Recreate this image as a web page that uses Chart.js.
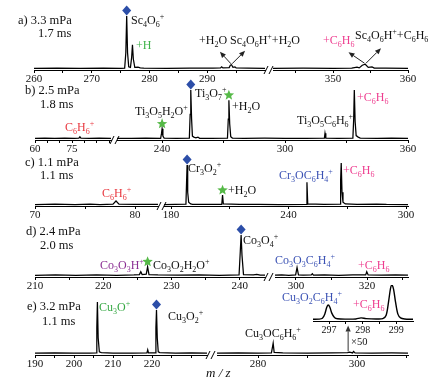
<!DOCTYPE html>
<html><head><meta charset="utf-8">
<script src="https://cdn.jsdelivr.net/npm/chart.js@4"></script>
<style>
body{margin:0;background:#fff}
#wrap{position:relative;width:433px;height:381px;overflow:hidden;background:#fff;font-family:"Liberation Serif","Times New Roman",serif}
canvas{position:absolute}
.t{position:absolute;white-space:nowrap;font-size:12px;line-height:16px;color:#111}
.t sub{font-size:8px;vertical-align:-3px;line-height:0}
.t sup{font-size:8px;vertical-align:5px;line-height:0}
</style></head>
<body><div id="wrap"></div>
<script>
// ---------------- DATA (m/z, relative intensity) ----------------
const specA1 = [[260,0],[264,0.5],[268,0],[272,0.6],[275,0],[275.7,0.5],[275.9,30],[276.05,100],[276.2,30],[276.4,3],[276.7,2],[276.9,20],[277.05,45],[277.2,18],[277.45,2],[278,2.5],[278.4,1],[279,0.5],[283,0.3],[287,0.8],[291,0.5],[292.3,1],[292.5,3],[292.7,1],[293.8,1.5],[294.0,6],[294.2,7],[294.45,2],[294.8,3],[295.0,1],[297,0.5],[300,0]];
const specA2 = [[342,0],[346,0.4],[350,0],[352.5,0.5],[353.2,2.5],[353.5,1],[353.9,6],[354.3,8],[354.7,2],[355.2,3],[355.5,0.5],[357,0.4],[360,0]];
const specB1 = [[60,0.5],[64,1],[68,0.3],[72,1],[76,0.4],[77.8,1],[78.2,3.5],[78.6,1],[82,0.5],[86,1],[90.8,0.5]];
const specB2 = [[218,0.5],[225,0.3],[232,0.8],[239.3,0.5],[239.7,10],[240,20],[240.4,5],[241,1],[247,0.6],[253.3,1],[253.7,50],[254,100],[254.4,40],[254.8,5],[255.5,3],[256.5,1.5],[257.5,3],[258.3,0.5],[264,0.5],[271.9,1],[272.3,40],[272.6,79],[273,30],[273.5,4],[274.3,1],[280,0.5],[290,0.8],[300,0.3],[310,0.6],[319.2,0.8],[319.5,11],[319.9,1],[326,0.5],[333.1,1],[333.5,40],[333.8,100],[334.2,35],[334.7,6],[335.7,3],[336.7,1],[345,0.5],[352,0.8],[360,0.3]];
const specC1 = [[70,0.5],[72,1.2],[74,0.5],[75.5,1.5],[76.5,0.5],[77.8,1.5],[78.1,9],[78.4,1.5],[80,0.6],[82.3,1]];
const specC2 = [[176.4,0.5],[182,1],[187.6,1.5],[187.9,50],[188.2,95],[188.5,30],[189,6],[190,2],[191,1],[198,0.6],[205.9,1],[206.3,23],[206.7,2],[215,0.6],[225,1],[235,0.5],[249.1,1],[249.4,54],[249.8,2],[258,0.8],[266.3,1.5],[266.6,60],[266.9,100],[267.3,30],[267.8,6],[269,2],[275,0.8],[285,1.5],[290,0.6],[301,0.5]];
const specD1 = [[210,1],[213,2],[216,1],[219,2],[222,1],[224.5,2],[225.3,3],[225.5,10],[225.7,3],[226.3,4],[226.5,22],[226.7,3],[228,2],[231,1.5],[234,2.5],[237,1],[239.9,2],[240.08,60],[240.2,100],[240.33,50],[240.55,3],[242,2],[242.5,3.5],[243,1.5],[243.7,1.5]];
const specD2 = [[294.1,1.5],[296,2],[298,1],[299.9,2],[300.3,20],[300.7,2],[302,1.5],[304.3,2],[304.6,5],[304.9,1.5],[308,2],[312,1],[316,2],[319.6,2],[319.9,10],[320.3,2],[324,1.5],[328,2],[331.5,1.5]];
const specE1 = [[190,0.5],[195,1],[200,0.5],[204,0.8],[205.7,1],[205.85,50],[206,100],[206.2,30],[206.5,3],[207,1.5],[210,0.8],[215,0.5],[218.7,1],[218.9,7],[219.1,1],[220.8,1],[221,50],[221.15,84.5],[221.35,30],[221.6,3],[222,1.5],[226,0.6],[230,1],[234.1,0.5]];
const specE2 = [[271.7,0.5],[276,1],[280,0.5],[282.7,1],[282.9,12],[283.05,20],[283.25,2],[285,1],[290,0.6],[295,1],[298.1,1.5],[298.5,2.5],[299.1,1],[299.3,4],[299.6,1],[303,0.8],[307,1],[310.3,0.5]];
const specInset = [[296.52,0],[296.7,0.5],[296.8,3],[296.87,15],[296.93,35],[296.97,41.7],[297.02,36],[297.08,18],[297.16,5],[297.25,1.5],[297.5,0.5],[297.8,1],[297.95,4],[298.1,2],[298.4,1],[298.6,2],[298.7,12],[298.77,50],[298.83,90],[298.87,100],[298.92,88],[298.98,50],[299.05,15],[299.13,4],[299.25,1],[299.5,0]];

// tick values and labelled ticks
const ticksA1 = [260,265,270,275,280,285,290,295], labA1 = [260,270,280,290];
const ticksA2 = [345,350,355,360], labA2 = [350,360];
const ticksB1 = [60,65,70,75,80,85,90], labB1 = [60,75];
const ticksB2 = [240,270,300,330,360], labB2 = [240,300,360];
const ticksC1 = [70,75,80], labC1 = [70,80];
const ticksC2 = [180,210,240,270,300], labC2 = [180,240,300];
const ticksD1 = [210,215,220,225,230,235,240], labD1 = [210,220,230,240];
const ticksD2 = [300,310,320,330], labD2 = [300,320];
const ticksE1 = [190,195,200,205,210,215,220,225,230], labE1 = [190,200,210,220];
const ticksE2 = [280,290,300,310], labE2 = [280,300];
const ticksIn = [297,297.5,298,298.5,299], labIn = [297,298,299];

// marker peaks [m/z, intensity]
const diamondsA = [[276.05,100]], diamondsB = [[254,100]], diamondsC = [[188.2,95]], diamondsD = [[240.2,100]], diamondsE = [[221.15,84.5]];
const starsB = [[240,20],[272.6,79]], starsC = [[206.3,23]], starsD = [[226.5,22]];

// ---------------- RENDERING ----------------
const wrap = document.getElementById('wrap');
const PAD = 22;

function drawStar(ctx,x,y,R,r){
  ctx.beginPath();
  for(let i=0;i<10;i++){
    const a = -Math.PI/2 + i*Math.PI/5, rad = i%2? r : R;
    const px = x + rad*Math.cos(a), py = y + rad*Math.sin(a);
    i? ctx.lineTo(px,py) : ctx.moveTo(px,py);
  }
  ctx.closePath(); ctx.fill();
}
function makeMarks(m){
  return {
    id:'marks',
    afterDatasetsDraw(chart){
      const ctx=chart.ctx, xs=chart.scales.x, ys=chart.scales.y, ca=chart.chartArea;
      ctx.save();
      (m.diamonds||[]).forEach(([mz,v])=>{
        const x=xs.getPixelForValue(mz), y=ys.getPixelForValue(v)-5.5;
        ctx.fillStyle='#2c4ea8';
        ctx.beginPath(); ctx.moveTo(x,y-5); ctx.lineTo(x+4.5,y); ctx.lineTo(x,y+5); ctx.lineTo(x-4.5,y); ctx.closePath(); ctx.fill();
      });
      (m.stars||[]).forEach(([mz,v])=>{
        const x=xs.getPixelForValue(mz), y=ys.getPixelForValue(v)-5;
        ctx.fillStyle='#55b947';
        drawStar(ctx,x,y,5.5,2.4);
      });
      (m.arrows||[]).forEach(([mz,v,dx,dy,col])=>{
        const x0=xs.getPixelForValue(mz), y0=ys.getPixelForValue(v)-1;
        const x1=x0+dx, y1=y0+dy;
        ctx.strokeStyle=col||'#222'; ctx.fillStyle=col||'#222'; ctx.lineWidth=1;
        const ang=Math.atan2(y1-y0,x1-x0), L=6, W=2.6;
        const bx=x1-L*Math.cos(ang), by=y1-L*Math.sin(ang);
        ctx.beginPath(); ctx.moveTo(x0,y0); ctx.lineTo(bx,by); ctx.stroke();
        ctx.beginPath(); ctx.moveTo(x1,y1);
        ctx.lineTo(bx+W*Math.sin(ang), by-W*Math.cos(ang));
        ctx.lineTo(bx-W*Math.sin(ang), by+W*Math.cos(ang));
        ctx.closePath(); ctx.fill();
      });
      if(m.brk){
        const y=ca.bottom, x=ca.right;
        ctx.strokeStyle='#000'; ctx.lineWidth=1;
        [[x+1],[x+6]].forEach(([bx])=>{ctx.beginPath(); ctx.moveTo(bx-2,y+4); ctx.lineTo(bx+2,y-4); ctx.stroke();});
      }
      ctx.restore();
    }
  };
}

function seg(cfg){
  const c=document.createElement('canvas');
  const w=cfg.px[1]-cfg.px[0]+2*PAD, h=(cfg.A-cfg.T)+PAD+18;
  c.width=w; c.height=h;
  c.style.left=(cfg.px[0]-PAD)+'px'; c.style.top=(cfg.T-PAD)+'px';
  c.style.width=w+'px'; c.style.height=h+'px';
  wrap.appendChild(c);
  new Chart(c,{
    type:'line',
    data:{datasets:[{data:cfg.data.map(p=>({x:p[0],y:p[1]})),borderColor:'#000',borderWidth:cfg.lw||1.25,pointRadius:0,tension:cfg.tension||0,fill:false}]},
    options:{
      responsive:false,animation:false,devicePixelRatio:1,
      layout:{padding:{left:PAD,right:PAD,top:PAD,bottom:0}},
      plugins:{legend:{display:false},tooltip:{enabled:false}},
      scales:{
        x:{type:'linear',min:cfg.x[0],max:cfg.x[1],
          afterBuildTicks:s=>{s.ticks=cfg.ticks.map(v=>({value:v}));},
          afterFit:s=>{s.height=18;},
          ticks:{autoSkip:false,maxRotation:0,minRotation:0,padding:0,color:'#111',
            font:{family:'Liberation Serif',size:cfg.fs||11},
            callback:v=>cfg.labels.includes(v)?String(v):''},
          grid:{drawOnChartArea:false,drawTicks:true,tickLength:3,color:'#000',lineWidth:1},
          border:{display:true,color:'#000',width:1}
        },
        y:{display:false,min:cfg.y[0],max:cfg.y[1]}
      }
    },
    plugins:[makeMarks(cfg.marks||{})]
  });
}

const Y=[-3,100];
// panel a
seg({px:[34,265],x:[260,300],T:16,A:70,y:Y,data:specA1,ticks:ticksA1,labels:labA1,
  marks:{diamonds:diamondsA,brk:true,arrows:[[294.1,7,-11,-12],[294.3,7,13,-13]]}});
seg({px:[273,408],x:[342,360],T:16,A:70,y:Y,data:specA2,ticks:ticksA2,labels:labA2,
  marks:{arrows:[[354.2,8,-16,-11],[354.4,8,15,-15]]}});
// panel b
seg({px:[35,111],x:[60,90.8],T:90,A:140,y:Y,data:specB1,ticks:ticksB1,labels:labB1,marks:{brk:true}});
seg({px:[117,408],x:[218,360],T:90,A:140,y:Y,data:specB2,ticks:ticksB2,labels:labB2,
  marks:{diamonds:diamondsB,stars:starsB}});
// panel c
seg({px:[35,158],x:[70,82.3],T:163,A:206,y:Y,data:specC1,ticks:ticksC1,labels:labC1,marks:{brk:true}});
seg({px:[164,408],x:[176.4,301],T:163,A:206,y:Y,data:specC2,ticks:ticksC2,labels:labC2,
  marks:{diamonds:diamondsC,stars:starsC}});
// panel d
seg({px:[35,265],x:[210,243.7],T:235,A:277,y:Y,data:specD1,ticks:ticksD1,labels:labD1,
  marks:{diamonds:diamondsD,stars:starsD,brk:true}});
seg({px:[275,408],x:[294.1,331.5],T:235,A:277,y:Y,data:specD2,ticks:ticksD2,labels:labD2});
// panel e
seg({px:[35,207],x:[190,234.1],T:302,A:355,y:Y,data:specE1,ticks:ticksE1,labels:labE1,
  marks:{diamonds:diamondsE,brk:true}});
seg({px:[217,408],x:[271.7,310.3],T:302,A:355,y:Y,data:specE2,ticks:ticksE2,labels:labE2,
  marks:{arrows:[[298.2,2,0,-26,'#333']]}});
// inset (x50)
seg({px:[313,413],x:[296.52,299.5],T:285,A:321,y:[-5,100],data:specInset,ticks:ticksIn,labels:labIn,fs:10,tension:0.3,lw:1.4});

// ---------------- TEXT ----------------
function f(s){return s.replace(/_(\d)/g,'<sub>$1</sub>').replace(/\^\+/g,'<sup>+</sup>');}
const PINK='#ee3d8f', RED='#e8373f', BLUE='#3b52b4', PURP='#8b2e93', GRN='#35a843';
const texts=[
  [18,20,'a) 3.3 mPa',null,12.5],[38,33,'1.7 ms',null,12.5],
  [131,20,'Sc_4O_6^+'],[136,45,'+H','#3fb34a'],[199,40,'+H_2O'],[230,40,'Sc_4O_6H^++H_2O'],
  [323,40,'+C_6H_6',PINK],[355,35,'Sc_4O_6H^++C_6H_6'],
  [25,90,'b) 2.5 mPa',null,12.5],[40,104,'1.8 ms',null,12.5],
  [195,93,'Ti_3O_7^+'],[232,106,'+H_2O'],[135,111,'Ti_3O_5H_2O^+'],[65,127,'C_6H_6^+',RED],
  [297,120,'Ti_3O_5C_6H_6^+'],[357,97,'+C_6H_6',PINK],
  [25,162,'c) 1.1 mPa',null,12.5],[40,175,'1.1 ms',null,12.5],
  [188,168,'Cr_3O_2^+'],[228,190,'+H_2O'],[279,175,'Cr_3OC_6H_4^+',BLUE],[343,170,'+C_6H_6',PINK],[102,193,'C_6H_6^+',RED],
  [26,231,'d) 2.4 mPa',null,12.5],[40,245,'2.0 ms',null,12.5],
  [100,265,'Co_3O_3H^+',PURP],[153,265,'Co_3O_2H_2O^+'],[243,240,'Co_3O_4^+'],[275,260,'Co_3O_3C_6H_4^+',BLUE],[358,265,'+C_6H_6',PINK],
  [27,306,'e) 3.2 mPa',null,12.5],[42,321,'1.1 ms',null,12.5],
  [99,307,'Cu_3O^+',GRN],[168,316,'Cu_3O_2^+'],[245,333,'Cu_3OC_6H_6^+'],[282,297,'Cu_3O_2C_6H_4^+',BLUE],[353,304,'+C_6H_6',PINK],
  [351,342,'×50',null,10.5]
];
texts.forEach(([x,y,s,col,size])=>{
  const d=document.createElement('div'); d.className='t';
  d.style.left=x+'px'; d.style.top=(y-8)+'px';
  if(col) d.style.color=col;
  if(size) d.style.fontSize=size+'px';
  d.innerHTML=f(s); wrap.appendChild(d);
});
const mz=document.createElement('div'); mz.className='t';
mz.style.left='206px'; mz.style.top='365px'; mz.style.fontSize='13px'; mz.style.fontStyle='italic';
mz.textContent='m / z'; wrap.appendChild(mz);
</script>
</body></html>
